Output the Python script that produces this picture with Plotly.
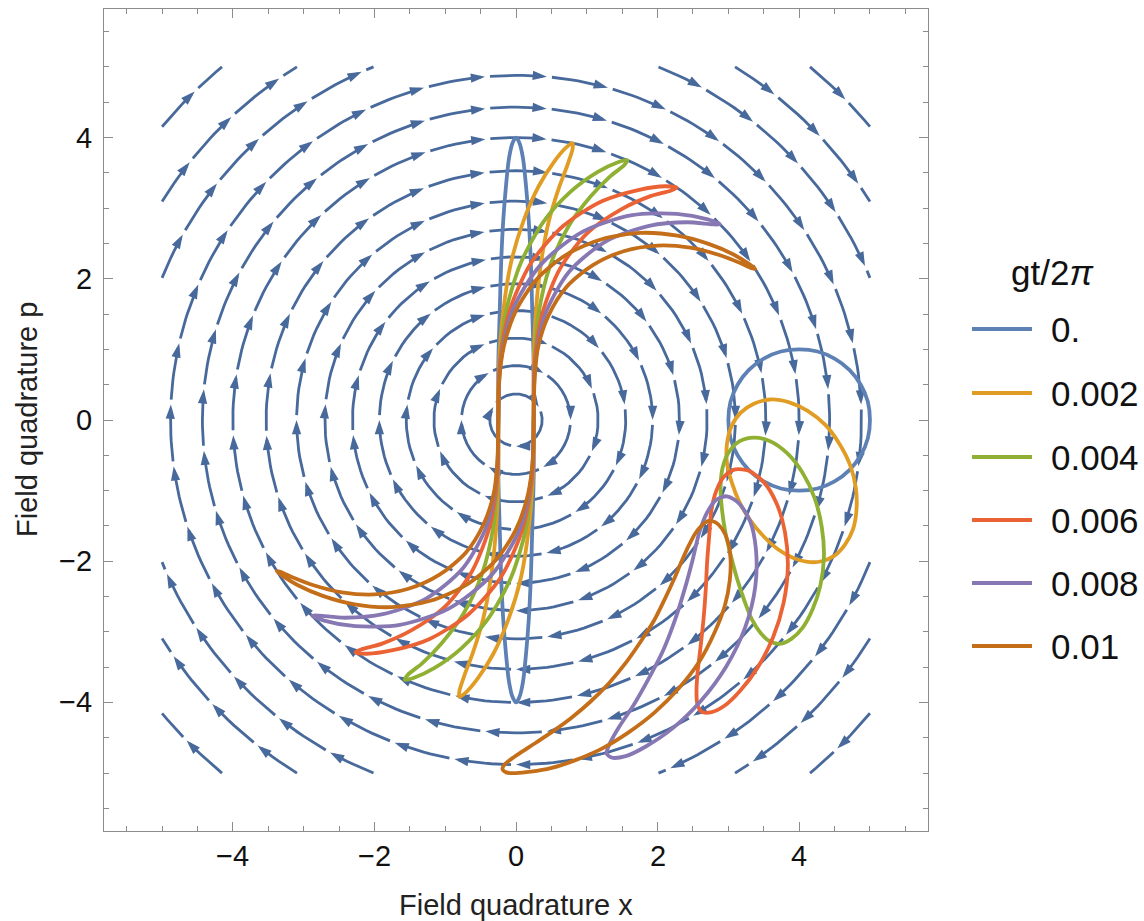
import numpy as np
import plotly.graph_objects as go

# ---------------- data (quadrature values in hundredths of a unit) ----------------
GT_2PI = [0.0, 0.002, 0.004, 0.006, 0.008, 0.01]
LABELS = ["0.", "0.002", "0.004", "0.006", "0.008", "0.01"]

# tick labels
TICK_VALS = [-4, -2, 0, 2, 4]
TICK_TEXT = ["\u22124", "\u22122", "0", "2", "4"]

# squeezed state contour (crescent) for each gt/2pi
SQZ_X_0 = [25, 25, 23, 21, 18, 14, 10, 5, 0, -5, -10, -14, -18, -21, -23, -25,
           -25, -25, -23, -21, -18, -14, -10, -5, 0, 5, 10, 14, 18, 21, 23, 25]
SQZ_Y_0 = [0, 78, 153, 222, 283, 333, 370, 392, 400, 392, 370, 333, 283, 222, 153, 78,
           0, -78, -153, -222, -283, -333, -370, -392, -400, -392, -370, -333, -283, -222, -153, -78]
SQZ_X_2 = [25, 25, 28, 35, 46, 60, 73, 80, 80, 71, 54, 32, 11, -7, -18, -24,
           -25, -25, -28, -35, -46, -60, -73, -80, -80, -71, -54, -32, -11, 7, 18, 24]
SQZ_Y_2 = [0, 78, 152, 220, 280, 327, 362, 384, 392, 386, 366, 331, 283, 223, 154, 78,
           0, -78, -152, -220, -280, -327, -362, -384, -392, -386, -366, -331, -283, -223, -154, -78]
SQZ_X_4 = [25, 26, 32, 48, 74, 105, 133, 153, 157, 144, 115, 78, 39, 7, -14, -23,
           -25, -26, -32, -48, -74, -105, -133, -153, -157, -144, -115, -78, -39, -7, 14, 23]
SQZ_Y_4 = [0, 78, 151, 218, 274, 316, 345, 361, 368, 365, 351, 324, 281, 223, 154, 78,
           0, -78, -151, -218, -274, -316, -345, -361, -368, -365, -351, -324, -281, -223, -154, -78]
SQZ_X_6 = [25, 26, 37, 62, 101, 148, 190, 219, 227, 211, 174, 122, 67, 21, -9, -23,
           -25, -26, -37, -62, -101, -148, -190, -219, -227, -211, -174, -122, -67, -21, 9, 23]
SQZ_Y_6 = [0, 77, 150, 214, 265, 298, 317, 325, 329, 331, 326, 310, 275, 222, 155, 79,
           0, -77, -150, -214, -265, -298, -317, -325, -329, -331, -326, -310, -275, -222, -155, -79]
SQZ_X_8 = [25, 27, 41, 75, 127, 188, 242, 278, 288, 271, 227, 164, 95, 35, -5, -22,
           -25, -27, -41, -75, -127, -188, -242, -278, -288, -271, -227, -164, -95, -35, 5, 22]
SQZ_Y_8 = [0, 77, 149, 210, 253, 275, 280, 277, 277, 284, 292, 290, 267, 220, 155, 79,
           0, -77, -149, -210, -253, -275, -280, -277, -277, -284, -292, -290, -267, -220, -155, -79]
SQZ_X_10 = [25, 26, 31, 46, 71, 108, 152, 200, 246, 286, 315, 333, 338, 329, 308, 273, 228, 176, 121, 71, 29, 0, -17, -24,
            -25, -26, -31, -46, -71, -108, -152, -200, -246, -286, -315, -333, -338, -329, -308, -273, -228, -176, -121, -71, -29, 0, 17, 24]
SQZ_Y_10 = [0, 52, 102, 148, 188, 219, 239, 247, 244, 234, 223, 215, 214, 221, 234, 249, 261, 265, 256, 234, 199, 155, 105, 53,
            0, -52, -102, -148, -188, -219, -239, -247, -244, -234, -223, -215, -214, -221, -234, -249, -261, -265, -256, -234, -199, -155, -105, -53]

# coherent state contour for each gt/2pi
COH_X_0 = [400, 374, 350, 329, 313, 303, 300, 303, 313, 329, 350, 374, 400, 426, 450, 471, 487, 497, 500, 497, 487, 471, 450, 426]
COH_Y_0 = [100, 97, 87, 71, 50, 26, 0, -26, -50, -71, -87, -97, -100, -97, -87, -71, -50, -26, 0, 26, 50, 71, 87, 97]
COH_X_2 = [412, 386, 359, 336, 317, 304, 298, 298, 305, 316, 331, 350, 370, 391, 412, 432, 450, 465, 476, 481, 480, 472, 457, 437]
COH_Y_2 = [13, 25, 29, 23, 10, -10, -34, -61, -89, -117, -142, -165, -183, -195, -201, -200, -192, -176, -155, -127, -96, -64, -34, -7]
COH_X_4 = [405, 383, 359, 336, 316, 301, 292, 289, 291, 296, 304, 313, 323, 333, 345, 358, 373, 389, 405, 419, 430, 435, 432, 422]
COH_Y_4 = [-75, -47, -30, -25, -30, -45, -67, -95, -127, -160, -194, -227, -257, -282, -301, -313, -317, -310, -294, -268, -234, -194, -152, -111]
COH_X_6 = [380, 368, 350, 329, 310, 294, 283, 276, 273, 270, 268, 265, 261, 257, 255, 256, 262, 275, 294, 317, 341, 363, 378, 384]
COH_Y_6 = [-159, -118, -88, -72, -70, -80, -100, -128, -163, -201, -241, -281, -319, -353, -381, -401, -413, -414, -405, -383, -351, -308, -259, -208]
COH_X_8 = [338, 339, 331, 315, 298, 283, 270, 259, 250, 239, 225, 208, 187, 166, 146, 133, 128, 135, 155, 184, 222, 261, 297, 324]
COH_Y_8 = [-236, -184, -144, -118, -108, -113, -131, -159, -196, -237, -282, -326, -367, -404, -434, -457, -472, -478, -476, -462, -436, -398, -349, -293]
COH_X_10 = [280, 295, 302, 303, 299, 291, 282, 272, 263, 253, 244, 234, 223, 210, 195, 176, 155, 131, 105, 78, 52, 28, 8, -8,
            -17, -19, -14, 0, 21, 49, 83, 120, 158, 196, 230, 259]
COH_Y_10 = [-302, -263, -227, -196, -171, -154, -145, -143, -149, -161, -178, -200, -226, -254, -284, -314, -344, -373, -399, -422,
            -441, -457, -470, -481, -489, -495, -499, -500, -498, -493, -482, -466, -443, -414, -380, -342]

SQZ_X = [SQZ_X_0, SQZ_X_2, SQZ_X_4, SQZ_X_6, SQZ_X_8, SQZ_X_10]
SQZ_Y = [SQZ_Y_0, SQZ_Y_2, SQZ_Y_4, SQZ_Y_6, SQZ_Y_8, SQZ_Y_10]
COH_X = [COH_X_0, COH_X_2, COH_X_4, COH_X_6, COH_X_8, COH_X_10]
COH_Y = [COH_Y_0, COH_Y_2, COH_Y_4, COH_Y_6, COH_Y_8, COH_Y_10]
UNIT = 0.01

# stream plot of the rotation field: radii of the stream circles
RING_R = [0.37, 0.77, 1.16, 1.55, 1.93, 2.31, 2.70, 3.10, 3.53, 4.00, 4.43, 4.88]
CORNER_R = [5.39, 5.88, 6.50]
BOX = 5.0           # stream plot region is [-5, 5] x [-5, 5]

# ---------------- style ----------------
COLORS = ["#5e81b5", "#e19c24", "#8fb032", "#eb6235", "#8778b3", "#c56e1a"]
STREAM_COLOR = "#48699b"
FRAME = "#8c8c8c"
FONT = "Liberation Sans, Arial, sans-serif"
SEG_LEN = 0.87
GAP = 0.07
BACK = 0.06
S0 = 0.68

W, H = 1144, 921
ML, MR, MT, MB = 104, 216, 9, 90
PW, PH = W - ML - MR, H - MT - MB
XR = [-5.82, 5.82]
YR = [-5.82, 5.82]

fig = go.Figure()

# ---------------- stream lines ----------------
sx, sy, axs, ays, angs = [], [], [], [], []


def add_piece(r, th0, th1):
    n = max(4, int(abs(th1 - th0) * r / 0.08))
    th = np.linspace(th0, th1, n)
    sx.extend(list(r * np.cos(th)) + [None])
    sy.extend(list(r * np.sin(th)) + [None])


def add_arrow(r, th):
    axs.append(r * np.cos(th))
    ays.append(r * np.sin(th))
    angs.append(180 - np.degrees(th))


for r in RING_R:
    n = max(3, int(round(2 * np.pi * r / SEG_LEN)))
    dth = 2 * np.pi / n
    for k in range(n):
        th_end = np.pi / 2 + 0.5 * dth - k * dth
        th_start = th_end + dth - GAP / r
        add_piece(r, th_start, th_end + BACK / r)
        add_arrow(r, th_end)

for r in CORNER_R:
    for q in range(4):
        base = q * np.pi / 2
        th_in = base + np.arcsin(BOX / r)
        th_out = base + np.arccos(BOX / r)
        A = r * (th_in - th_out)
        s = 0.0
        tip = S0
        while tip < A - 0.05:
            add_piece(r, th_in - s / r, th_in - (tip - BACK) / r)
            add_arrow(r, th_in - tip / r)
            s = tip + GAP
            tip += SEG_LEN
        if s < A:
            add_piece(r, th_in - s / r, th_out)

fig.add_trace(go.Scatter(x=sx, y=sy, mode="lines", line=dict(color=STREAM_COLOR, width=2.8),
                         hoverinfo="skip", showlegend=False))
fig.add_trace(go.Scatter(x=axs, y=ays, mode="markers",
                         marker=dict(symbol="arrow", size=15, angle=angs, color=STREAM_COLOR,
                                     line=dict(width=0)),
                         hoverinfo="skip", showlegend=False))

# ---------------- state contours ----------------
for i, (lab, col) in enumerate(zip(LABELS, COLORS)):
    for xs, ys in ((SQZ_X[i], SQZ_Y[i]), (COH_X[i], COH_Y[i])):
        xv = [v * UNIT for v in xs + xs[:1]]
        yv = [v * UNIT for v in ys + ys[:1]]
        fig.add_trace(go.Scatter(x=xv, y=yv, mode="lines", name=lab,
                                 line=dict(color=col, width=3.8, shape="spline", smoothing=0.8),
                                 showlegend=False, hoverinfo="skip"))

axis_common = dict(ticks="inside", ticklen=8.5, tickwidth=1.2, tickcolor=FRAME,
                   showline=True, linecolor=FRAME, linewidth=1.4, mirror="ticks",
                   showgrid=False, zeroline=False, tickmode="array", tickvals=TICK_VALS,
                   showticklabels=False,
                   minor=dict(ticks="inside", ticklen=5, dtick=0.5, tick0=0, tickcolor=FRAME, tickwidth=1.2))

fig.update_layout(
    width=W, height=H, margin=dict(l=ML, r=MR, t=MT, b=MB, autoexpand=False),
    paper_bgcolor="white", plot_bgcolor="white",
    xaxis=dict(range=XR, **axis_common),
    yaxis=dict(range=YR, **axis_common),
    showlegend=False,
)


def px(xp):
    return (xp - ML) / PW


def py(yp):
    return 1 - (yp - MT) / PH


TICK_FONT = dict(family=FONT, size=29, color="#111111")
# tick labels, placed through the axes' own scales
for v, t in zip(TICK_VALS, TICK_TEXT):
    fig.add_annotation(xref="x", yref="paper", x=v, y=py(856), xanchor="center", yanchor="middle",
                       text=t, showarrow=False, font=TICK_FONT)
    fig.add_annotation(xref="paper", yref="y", x=px(94), y=v, xanchor="right", yanchor="middle",
                       text=t, showarrow=False, font=TICK_FONT)

# axis titles
fig.add_annotation(xref="paper", yref="paper", x=px(516), y=py(905), xanchor="center", yanchor="middle",
                   text="Field quadrature x", showarrow=False, font=dict(family=FONT, size=29, color="#222"))
fig.add_annotation(xref="paper", yref="paper", x=px(27), y=py(420), xanchor="center", yanchor="middle",
                   text="Field quadrature p", textangle=-90, showarrow=False,
                   font=dict(family=FONT, size=29, color="#222"))

# legend
LEG_Y = [329, 393, 457, 520, 583, 646]
for yv, col, lab in zip(LEG_Y, COLORS, LABELS):
    fig.add_shape(type="line", xref="paper", yref="paper", x0=px(972), x1=px(1032), y0=py(yv), y1=py(yv),
                  line=dict(color=col, width=3.8))
    fig.add_annotation(xref="paper", yref="paper", x=px(1049), y=py(yv), xanchor="left", yanchor="middle",
                       text=lab, showarrow=False, font=dict(family=FONT, size=35, color="#111"))
fig.add_annotation(xref="paper", yref="paper", x=px(1052), y=py(272), xanchor="center", yanchor="middle",
                   text="gt/2<i>π</i>", showarrow=False, font=dict(family=FONT, size=35, color="#111"))

fig.write_html("out.html")
